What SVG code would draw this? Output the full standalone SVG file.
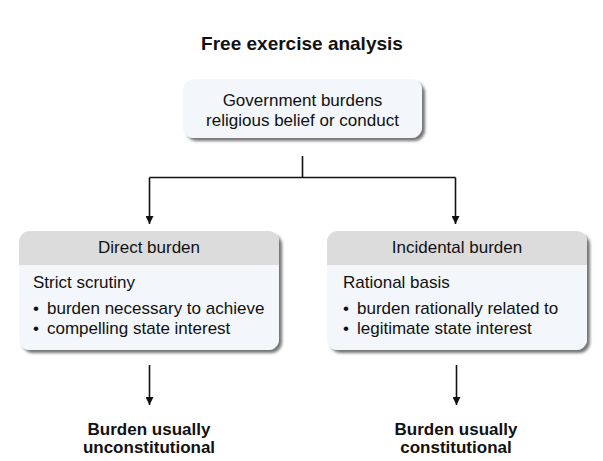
<svg xmlns="http://www.w3.org/2000/svg" width="603" height="461" viewBox="0 0 603 461">
<style>
text { font-family: "Liberation Sans", Arial, sans-serif; fill: #111; }
.t { font-size: 17px; }
.b { font-size: 17px; font-weight: bold; }
.title { font-size: 19px; font-weight: bold; }
.box { fill: #f3f6fa; }
.hdr { fill: #dcdcdc; }
.ln { stroke: #111; stroke-width: 1.6; fill: none; }
</style>
<defs>
<filter id="sh" x="-10%" y="-10%" width="125%" height="130%">
<feGaussianBlur in="SourceAlpha" stdDeviation="1.6"/>
<feOffset dx="3" dy="3" result="o"/>
<feComponentTransfer><feFuncA type="linear" slope="0.55"/></feComponentTransfer>
<feMerge><feMergeNode/><feMergeNode in="SourceGraphic"/></feMerge>
</filter>
<marker id="ar" viewBox="0 0 10 10" refX="10" refY="5" markerWidth="8" markerHeight="8" markerUnits="userSpaceOnUse" orient="auto">
<path d="M0,0 L10,5 L0,10 z" fill="#111"/>
</marker>
<clipPath id="cl"><rect x="19" y="231" width="260" height="119" rx="11"/></clipPath>
<clipPath id="cr"><rect x="327" y="231" width="260" height="119" rx="11"/></clipPath>
</defs>
<text class="title" x="302" y="50" text-anchor="middle">Free exercise analysis</text>
<g id="top">
<rect class="box" x="183" y="79" width="239" height="59" rx="11" filter="url(#sh)"/>
<text class="t" x="302.5" y="106" text-anchor="middle">Government burdens</text>
<text class="t" x="302.5" y="126" text-anchor="middle">religious belief or conduct</text>
</g>
<g id="direct">
<rect class="box" x="19" y="231" width="260" height="119" rx="11" filter="url(#sh)"/>
<rect class="hdr" x="19" y="231" width="260" height="34" clip-path="url(#cl)"/>
<text class="t" x="149" y="253" text-anchor="middle">Direct burden</text>
<text class="t" x="33" y="288">Strict scrutiny</text>
<text class="t" x="33" y="314">•</text>
<text class="t" x="47" y="314">burden necessary to achieve</text>
<text class="t" x="33" y="334">•</text>
<text class="t" x="47" y="334">compelling state interest</text>
</g>
<g id="incidental">
<rect class="box" x="327" y="231" width="260" height="119" rx="11" filter="url(#sh)"/>
<rect class="hdr" x="327" y="231" width="260" height="34" clip-path="url(#cr)"/>
<text class="t" x="457" y="253" text-anchor="middle">Incidental burden</text>
<text class="t" x="343" y="288">Rational basis</text>
<text class="t" x="343" y="314">•</text>
<text class="t" x="357" y="314">burden rationally related to</text>
<text class="t" x="343" y="334">•</text>
<text class="t" x="357" y="334">legitimate state interest</text>
</g>
<g id="result-left">
<text class="b" x="149" y="435" text-anchor="middle">Burden usually</text>
<text class="b" x="149" y="453" text-anchor="middle">unconstitutional</text>
</g>
<g id="result-right">
<text class="b" x="456" y="435" text-anchor="middle">Burden usually</text>
<text class="b" x="456" y="453" text-anchor="middle">constitutional</text>
</g>
<g id="connectors">
<path class="ln" d="M302.5,156 V177.5 M149.5,177.5 H455.5"/>
<path class="ln" d="M149.5,177.5 V224" marker-end="url(#ar)"/>
<path class="ln" d="M455.5,177.5 V224" marker-end="url(#ar)"/>
<path class="ln" d="M149.5,365 V405" marker-end="url(#ar)"/>
<path class="ln" d="M456.5,365 V405" marker-end="url(#ar)"/>
</g>
</svg>
